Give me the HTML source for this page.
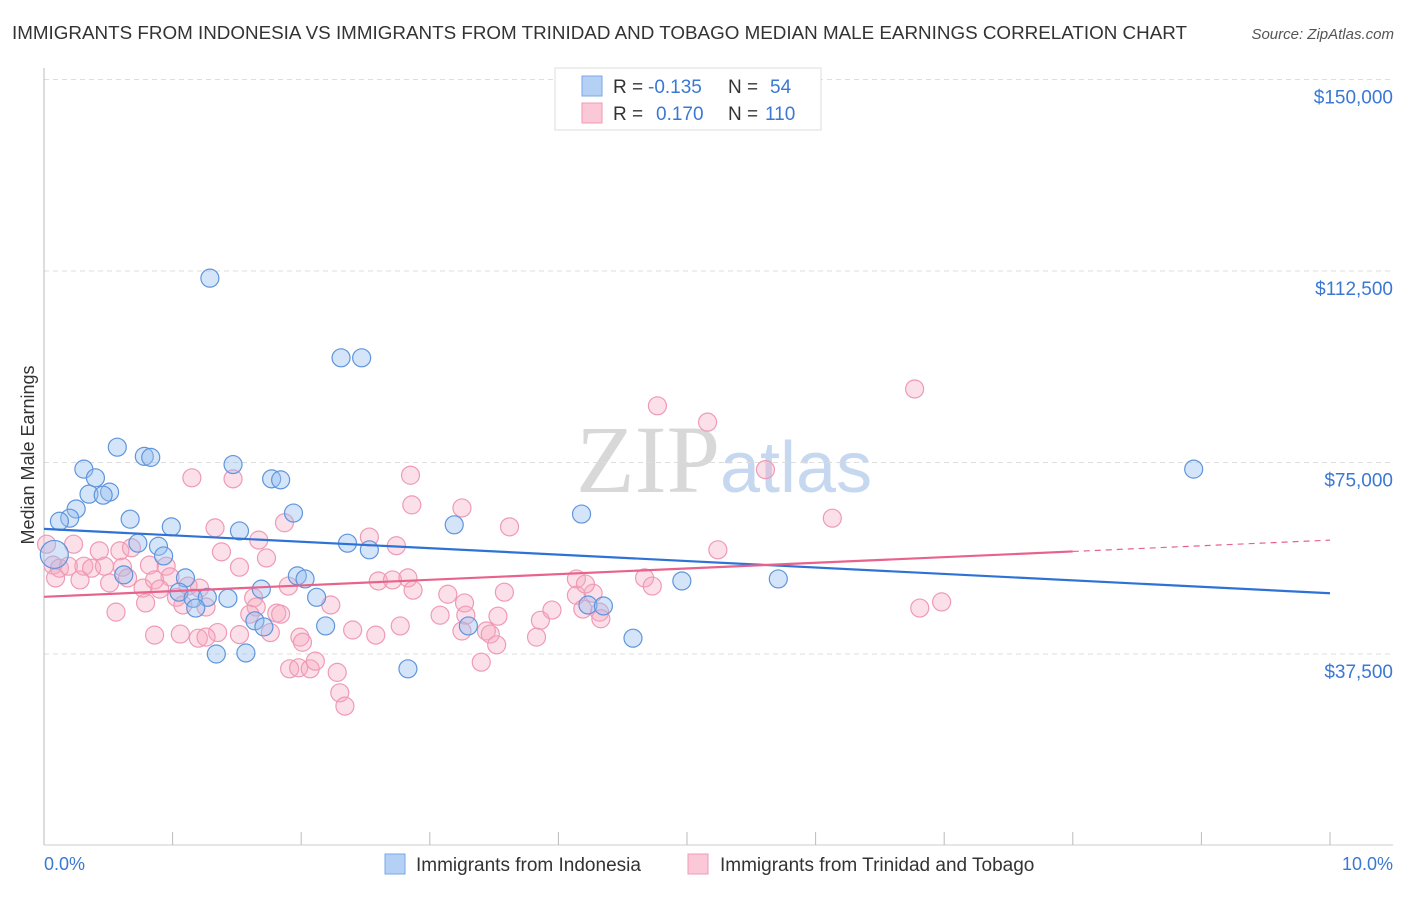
<!DOCTYPE html>
<html><head><meta charset="utf-8"><style>
body{margin:0;background:#fff;font-family:"Liberation Sans",sans-serif;}
</style></head><body>
<svg id="c" width="1406" height="892" xmlns="http://www.w3.org/2000/svg">
<text x="12" y="39" font-size="18" fill="#333" textLength="1175" lengthAdjust="spacingAndGlyphs">IMMIGRANTS FROM INDONESIA VS IMMIGRANTS FROM TRINIDAD AND TOBAGO MEDIAN MALE EARNINGS CORRELATION CHART</text>
<text x="1394" y="39" font-size="15" fill="#555" font-style="italic" text-anchor="end">Source: ZipAtlas.com</text>
<text x="720" y="492" font-size="96" fill="#d8d8d8" text-anchor="end" font-family="Liberation Serif">ZIP</text>
<text x="720" y="492" font-size="72" fill="#c6d8f0">atlas</text>
<text transform="translate(34,455) rotate(-90)" font-size="18" fill="#333" text-anchor="middle">Median Male Earnings</text>
<g id="grid"></g><g id="pts"></g><g id="lines"></g>
<g>
<rect x="555" y="68" width="266" height="62" fill="#fff" stroke="#ddd"/>
<rect x="582" y="76" width="20" height="20" fill="#b5d0f5" stroke="#7aa8e6"/>
<rect x="582" y="103" width="20" height="20" fill="#fbc8d7" stroke="#f09ab6"/>
<text x="613" y="93" font-size="19" fill="#333">R =</text>
<text x="648" y="93" font-size="19" fill="#3a78d4">-0.135</text>
<text x="728" y="93" font-size="19" fill="#333">N =</text>
<text x="770" y="93" font-size="19" fill="#3a78d4">54</text>
<text x="613" y="120" font-size="19" fill="#333">R =</text>
<text x="656" y="120" font-size="19" fill="#3a78d4">0.170</text>
<text x="728" y="120" font-size="19" fill="#333">N =</text>
<text x="765" y="120" font-size="19" fill="#3a78d4">110</text>
</g>
<g>
<rect x="385" y="854" width="20" height="20" fill="#b5d0f5" stroke="#7aa8e6"/>
<text x="416" y="871" font-size="19" fill="#333">Immigrants from Indonesia</text>
<rect x="688" y="854" width="20" height="20" fill="#fbc8d7" stroke="#f09ab6"/>
<text x="720" y="871" font-size="19" fill="#333">Immigrants from Trinidad and Tobago</text>
</g>
<text x="44" y="870" font-size="18" fill="#3a78d4">0.0%</text>
<text x="1393" y="870" font-size="18" fill="#3a78d4" text-anchor="end">10.0%</text>
</svg>
<script>
const yTicks=[37500,75000,112500,150000];
const yTickLabels=["$37,500","$75,000","$112,500","$150,000"];
const blueX=[1.29,2.31,2.47,0.57,0.78,0.83,0.31,1.47,0.40,1.77,1.84,0.51,0.35,0.46,0.25,0.20,0.12,1.94,0.67,0.99,1.52,3.19,4.18,8.94,0.73,0.89,0.93,2.36,2.53,0.62,1.10,1.97,2.03,4.96,5.71,1.69,2.12,1.05,1.16,1.27,1.43,1.18,4.23,4.35,1.64,1.71,2.19,3.30,4.58,1.34,1.57,2.83,0.08];
const blueY=[111.1,95.5,95.5,78.0,76.2,76.0,73.7,74.6,72.0,71.8,71.6,69.2,68.8,68.6,65.9,64.1,63.5,65.1,63.9,62.4,61.6,62.8,64.9,73.7,59.2,58.6,56.7,59.2,57.9,53.0,52.4,52.8,52.2,51.8,52.2,50.2,48.6,49.6,48.4,48.6,48.4,46.5,47.1,46.9,44.0,42.8,43.0,43.0,40.6,37.5,37.7,34.6,57.0];
const pinkX=[6.77,4.77,5.16,5.61,1.15,1.47,2.85,2.86,3.25,6.13,1.87,3.62,1.33,2.53,2.74,1.67,0.02,0.23,0.43,0.59,0.68,1.38,1.73,5.24,0.07,0.12,0.19,0.31,0.37,0.47,0.61,0.82,0.95,1.52,0.98,0.09,0.28,0.51,0.65,0.77,0.86,0.90,1.12,1.21,1.90,2.60,2.71,2.83,2.87,3.58,3.14,4.14,4.67,4.73,4.14,4.27,0.56,0.79,1.03,1.08,1.26,1.63,1.65,1.81,1.84,1.60,2.23,3.27,3.08,3.28,3.53,3.86,3.95,4.32,4.33,1.35,1.52,1.76,1.99,2.01,2.40,2.77,3.25,3.44,3.47,0.86,1.06,1.20,1.26,2.58,3.83,3.52,6.81,6.98,1.91,1.98,2.07,2.11,3.40,2.28,2.30,2.34,4.19,4.21];
const pinkY=[89.4,86.1,82.9,73.6,72.0,71.8,72.5,66.7,66.1,64.1,63.2,62.4,62.2,60.4,58.7,59.8,59.0,59.0,57.7,57.7,58.3,57.5,56.3,57.9,54.9,54.3,54.7,54.7,54.3,54.7,54.5,54.9,54.7,54.5,52.6,52.4,52.0,51.4,52.4,50.4,52.0,50.2,50.8,50.4,50.8,51.8,52.0,52.4,50.0,49.6,49.2,52.2,52.4,50.8,49.0,49.4,45.7,47.5,48.6,47.1,46.7,48.5,46.7,45.5,45.3,45.3,47.1,47.5,45.1,45.1,44.9,44.1,46.1,45.7,44.4,41.7,41.3,41.7,40.8,39.8,42.2,43.0,42.0,42.0,41.4,41.2,41.4,40.6,40.8,41.2,40.8,39.3,46.5,47.7,34.6,34.8,34.6,36.1,35.9,33.9,29.9,27.3,46.3,51.2];
const blueTrend=[62.0,49.4];
const pinkTrend=[48.7,59.8];
const pinkSolidEnd=8.0;

const NS="http://www.w3.org/2000/svg";
const X=v=>44+v*128.6;
const Y=v=>845.5-v/37500*191.5;
function mk(t,a,p){const e=document.createElementNS(NS,t);for(const k in a)e.setAttribute(k,a[k]);p.appendChild(e);return e;}
const grid=document.getElementById('grid');
yTicks.forEach((t,i)=>{
 const l=mk('line',{x1:44,x2:1393,y1:Y(t),y2:Y(t),stroke:'#ddd','stroke-dasharray':'5,4'},grid);
 
 
 const tx=mk('text',{x:1393,y:Y(t)+24,'font-size':19,fill:'#3a78d4','text-anchor':'end'},grid);
 tx.textContent=yTickLabels[i];
 
 
});
mk('line',{x1:44,x2:44,y1:68,y2:845,stroke:'#bbb'},grid);
mk('line',{x1:44,x2:1393,y1:845,y2:845,stroke:'#ccc'},grid);
for(let i=1;i<=10;i++){const t=mk('line',{x1:X(i),x2:X(i),y1:832,y2:845,stroke:'#bbb'},grid);
 
 }
const pts=document.getElementById('pts');
pinkX.forEach((x,i)=>{const c=mk('circle',{cx:X(x),cy:Y(pinkY[i]*1000),r:9,fill:'rgba(245,165,192,0.35)',stroke:'#ef9ab5','stroke-width':1.2},pts);
 
 });
blueX.forEach((x,i)=>{const r=i===blueX.length-1?14:9;const c=mk('circle',{cx:X(x),cy:Y(blueY[i]*1000),r:r,fill:'rgba(150,190,240,0.4)',stroke:'#5f95dc','stroke-width':1.2},pts);
 
 });
const lines=document.getElementById('lines');
const bl=mk('line',{x1:X(0),y1:Y(blueTrend[0]*1000),x2:X(10),y2:Y(blueTrend[1]*1000),stroke:'#2f72d6','stroke-width':2.2},lines);


const pm=v=>pinkTrend[0]+(pinkTrend[1]-pinkTrend[0])*v/10;
const pl=mk('line',{x1:X(0),y1:Y(pm(0)*1000),x2:X(pinkSolidEnd),y2:Y(pm(pinkSolidEnd)*1000),stroke:'#e8638c','stroke-width':2.2},lines);


const pd=mk('line',{x1:X(pinkSolidEnd),y1:Y(pm(pinkSolidEnd)*1000),x2:X(10),y2:Y(pm(10)*1000),stroke:'#e8638c','stroke-width':1.2,'stroke-dasharray':'6,5'},lines);


</script>
</body></html>
